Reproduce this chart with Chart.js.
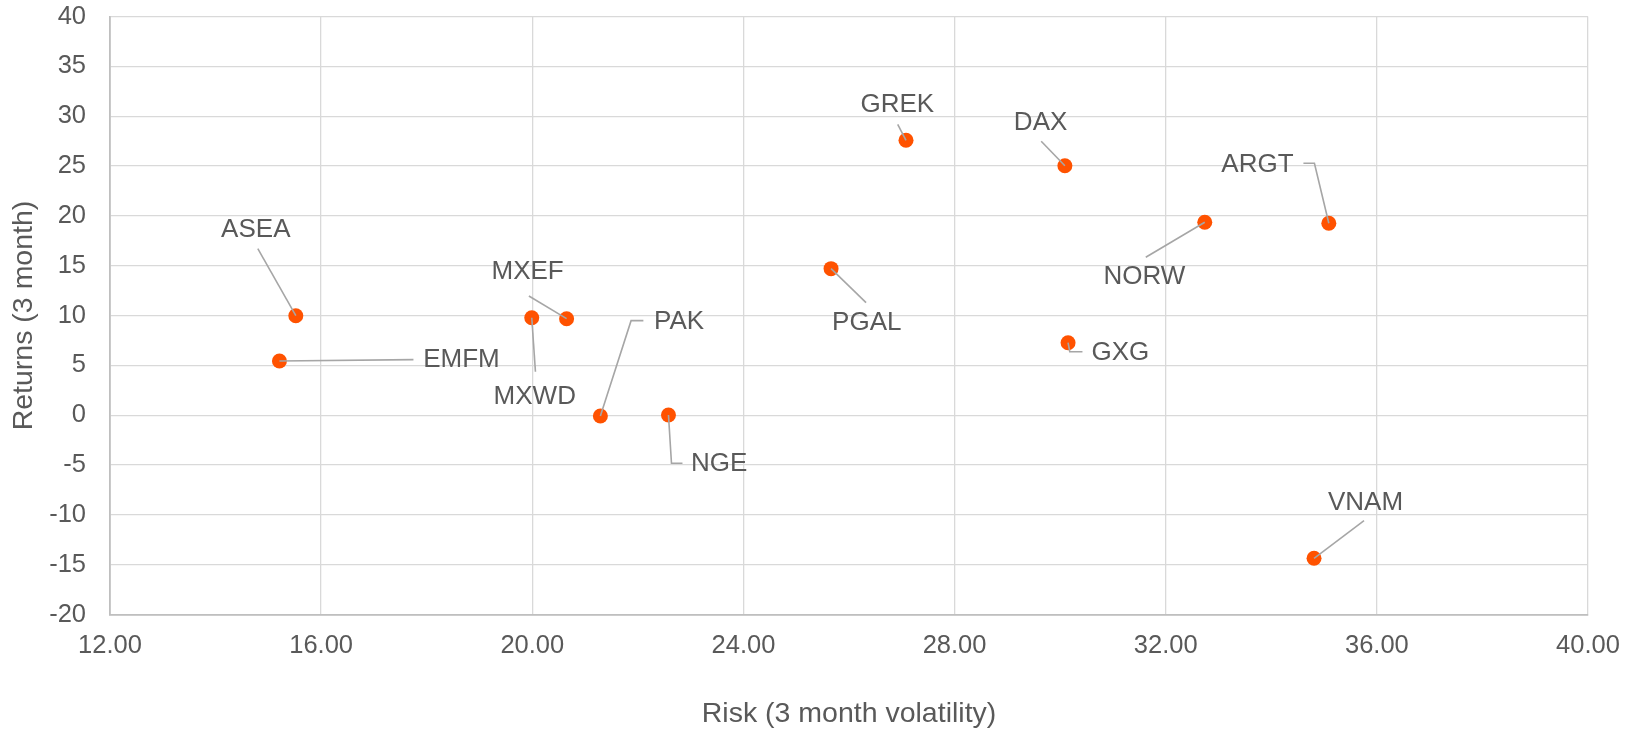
<!DOCTYPE html>
<html>
<head>
<meta charset="utf-8">
<script src="https://cdn.jsdelivr.net/npm/chart.js@4.4.1/dist/chart.umd.min.js"></script>
<style>
  html, body { margin: 0; padding: 0; background: #ffffff; }
  #wrap { width: 1641px; height: 732px; position: relative; }
</style>
</head>
<body>
<div id="wrap"><canvas id="c" width="1641" height="732"></canvas></div>
<script>
// ---- Data ----
const tickers = ['ASEA', 'EMFM', 'MXEF', 'MXWD', 'PAK', 'NGE', 'PGAL', 'GREK', 'DAX', 'GXG', 'NORW', 'ARGT', 'VNAM'];
const risk    = [15.52, 15.21, 20.65, 19.99, 21.29, 22.58, 25.66, 27.08, 30.09, 30.15, 32.74, 35.09, 34.81];
const returns = [9.98, 5.44, 9.68, 9.78, -0.08, 0.02, 14.70, 27.58, 25.03, 7.27, 19.35, 19.25, -14.36];
const xTitle = 'Risk (3 month volatility)';
const yTitle = 'Returns (3 month)';

// ---- Label placement (pixel offsets from each point) ----
const labelLayout = {
  ASEA: { text: [-40, -86],   leader: [[-38, -67], [0, 0]] },
  EMFM: { text: [182, -1],    leader: [[0, 0], [134, -1.3]] },
  MXEF: { text: [-39, -47],   leader: [[-37.7, -22.7], [0, 0]] },
  MXWD: { text: [3, 79],      leader: [[0, 0], [3.7, 54]] },
  PAK:  { text: [78.7, -94.3], leader: [[0, 0], [30.7, -95.3], [43, -95.3]] },
  NGE:  { text: [50.6, 49.3], leader: [[0, 0], [3, 48.3], [14, 48.3]] },
  PGAL: { text: [35.7, 54.6], leader: [[0, 0], [35, 34]] },
  GREK: { text: [-8.7, -35.3], leader: [[-8.3, -16], [0, 0]] },
  DAX:  { text: [-24.3, -43], leader: [[-23.7, -24.4], [0, 0]] },
  GXG:  { text: [52.3, 9.7],  leader: [[0, 0], [1.7, 9], [14.4, 9]] },
  NORW: { text: [-60.4, 55],  leader: [[0, 0], [-59, 35]] },
  ARGT: { text: [-71.4, -58.3], leader: [[-25.4, -60], [-14.4, -60], [0, 0]] },
  VNAM: { text: [51.5, -55.8], leader: [[50, -37.6], [0, 0]] }
};

const FONT = "'Liberation Sans', Arial, sans-serif";
const TEXT = '#595959';

const points = risk.map((r, i) => ({ x: r, y: returns[i], label: tickers[i] }));

const labelPlugin = {
  id: 'leaderLabels',
  afterDatasetsDraw(chart) {
    const ctx = chart.ctx;
    const meta = chart.getDatasetMeta(0);
    ctx.save();
    ctx.strokeStyle = '#a6a6a6';
    ctx.lineWidth = 1.6;
    meta.data.forEach((el, i) => {
      const lay = labelLayout[tickers[i]];
      if (!lay) return;
      ctx.beginPath();
      lay.leader.forEach((p, k) => {
        const px = el.x + p[0], py = el.y + p[1];
        if (k === 0) ctx.moveTo(px, py); else ctx.lineTo(px, py);
      });
      ctx.stroke();
    });
    ctx.fillStyle = TEXT;
    ctx.font = '26px ' + FONT;
    ctx.textAlign = 'center';
    ctx.textBaseline = 'middle';
    meta.data.forEach((el, i) => {
      const lay = labelLayout[tickers[i]];
      if (!lay) return;
      ctx.fillText(tickers[i], el.x + lay.text[0], el.y + lay.text[1]);
    });
    ctx.restore();
  }
};

new Chart(document.getElementById('c'), {
  type: 'scatter',
  data: {
    datasets: [{
      data: points,
      backgroundColor: '#FF5200',
      borderWidth: 0,
      pointRadius: 7.5,
      pointHoverRadius: 7.5
    }]
  },
  plugins: [labelPlugin],
  options: {
    responsive: false,
    animation: false,
    devicePixelRatio: 1,
    layout: { padding: { left: 0, right: 53, top: 0, bottom: 0 } },
    plugins: { legend: { display: false }, tooltip: { enabled: false } },
    scales: {
      x: {
        type: 'linear',
        min: 12, max: 40,
        ticks: {
          stepSize: 4,
          color: TEXT,
          font: { family: FONT, size: 25.5 },
          padding: 16,
          maxRotation: 0,
          callback: v => Number(v).toFixed(2)
        },
        grid: { color: '#d9d9d9', lineWidth: 1.3, drawTicks: false },
        border: { color: '#bfbfbf', width: 1.8 },
        title: {
          display: true, text: xTitle, color: TEXT,
          font: { family: FONT, size: 28.5 },
          padding: { top: 0, bottom: 1 }
        },
        afterFit(scale) { scale.height = 117.5; scale.paddingLeft = 0; scale.paddingRight = 53; }
      },
      y: {
        type: 'linear',
        min: -20, max: 40,
        ticks: {
          stepSize: 5,
          color: TEXT,
          font: { family: FONT, size: 25.5 },
          padding: 24
        },
        grid: { color: '#d9d9d9', lineWidth: 1.3, drawTicks: false },
        border: { color: '#bfbfbf', width: 1.8 },
        title: {
          display: true, text: yTitle, color: TEXT,
          font: { family: FONT, size: 28.5 },
          padding: { top: 7, bottom: 0 }
        },
        afterFit(scale) { scale.width = 110; scale.paddingTop = 16.5; scale.paddingBottom = 0; }
      }
    }
  }
});
</script>
</body>
</html>
